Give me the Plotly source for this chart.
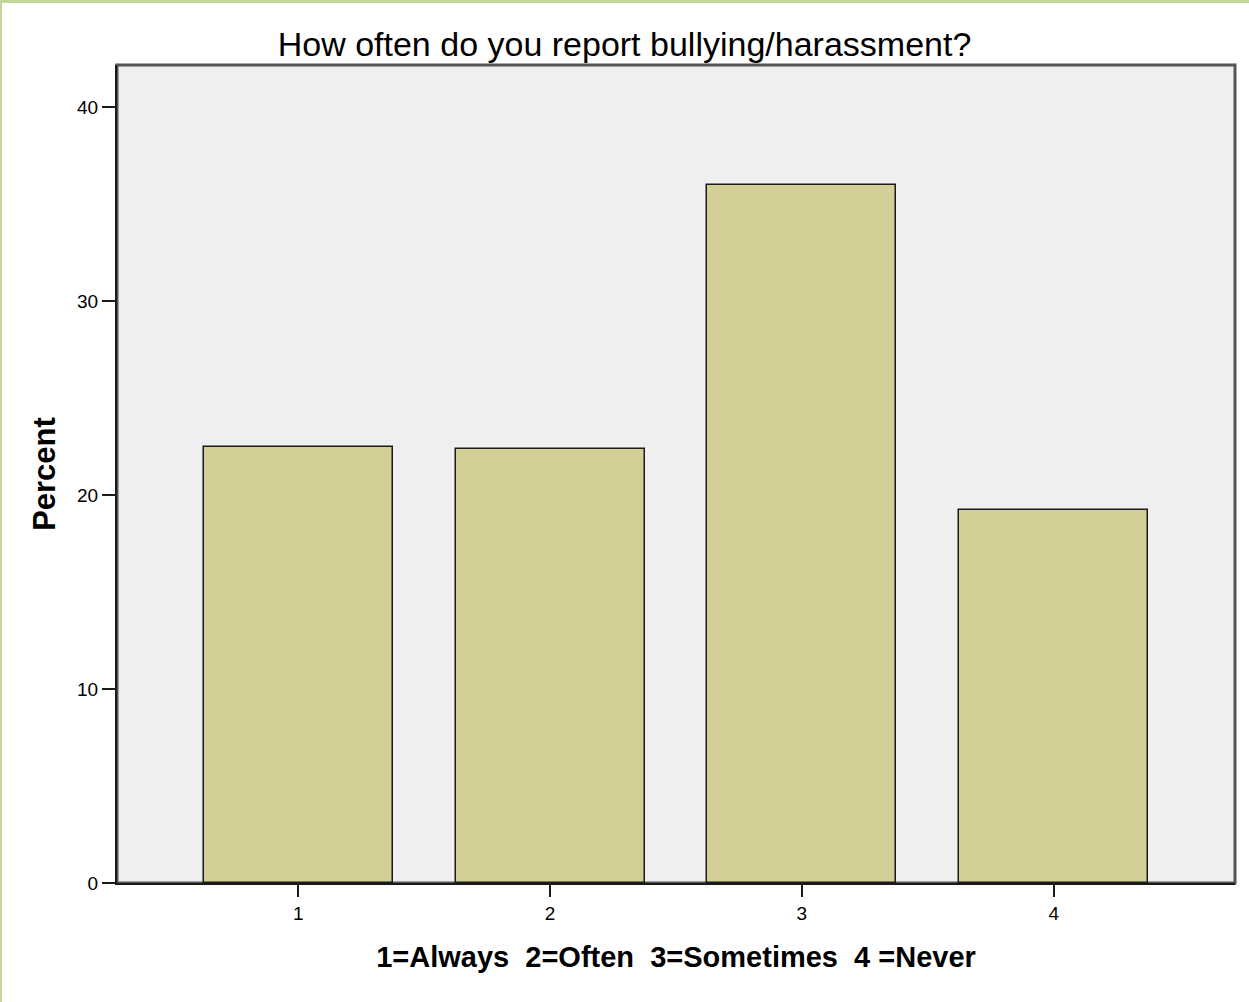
import plotly.graph_objects as go

categories = [1, 2, 3, 4]
percent = [22.47, 22.37, 35.98, 19.23]
y_ticks = [0, 10, 20, 30, 40]

W, H = 1249, 1002
L, R, T, B = 117, 14, 65, 119
FONT = "Liberation Sans, Arial"

fig = go.Figure(go.Bar(
    x=categories, y=percent, width=0.75,
    marker=dict(color="#d3cf97", line=dict(color="#1a1a1a", width=1.5)),
    hoverinfo="x+y",
))

fig.update_layout(
    width=W, height=H,
    margin=dict(l=L, r=R, t=T, b=B),
    paper_bgcolor="white", plot_bgcolor="#efefef",
    font=dict(family=FONT, color="black", size=19),
    title=dict(text="How often do you report bullying/harassment?",
               x=0.5, xanchor="center", xref="container", y=1 - 44 / H, yanchor="middle",
               font=dict(size=34, family=FONT, color="black")),
    showlegend=False,
    bargap=0,
)
# gray frame around plot area (top/right visible)
fig.add_shape(type="rect", xref="paper", yref="paper", x0=0, x1=1, y0=0, y1=1,
              line=dict(color="#555555", width=3), layer="below")
fig.update_xaxes(
    range=[0.28, 4.72], tickvals=categories, ticktext=[str(c) for c in categories],
    ticks="outside", ticklen=12, tickwidth=2, tickcolor="#1a1a1a",
    showline=True, linecolor="#1a1a1a", linewidth=2,
    showgrid=False, zeroline=False,
    title=dict(text="<b>1=Always  2=Often  3=Sometimes  4 =Never</b>",
               font=dict(size=29, family=FONT), standoff=24),
    tickfont=dict(size=19),
)
fig.update_yaxes(
    range=[0, 42.16], tickvals=y_ticks,
    ticks="outside", ticklen=13, tickwidth=2, tickcolor="#1a1a1a",
    showline=True, linecolor="#1a1a1a", linewidth=2,
    showgrid=False, zeroline=False,
    title=dict(text="<b>Percent</b>", font=dict(size=31, family=FONT), standoff=12),
    tickfont=dict(size=19),
)

# light green frame (top and left edges of the image)
px = 1.0 / (W - L - R)
py = 1.0 / (H - T - B)
fig.add_shape(type="line", xref="paper", yref="paper",
              x0=-L * px, x1=1 + R * px, y0=1 + (T - 1.5) * py, y1=1 + (T - 1.5) * py,
              line=dict(color="#c3d69b", width=3))
fig.add_shape(type="line", xref="paper", yref="paper",
              x0=-(L - 1) * px, x1=-(L - 1) * px, y0=-B * py, y1=1 + T * py,
              line=dict(color="#c3d69b", width=2))

fig.write_html("out.html", config=dict(displayModeBar=False),
               post_script="document.body.style.margin='0';document.body.style.overflow='hidden';")
